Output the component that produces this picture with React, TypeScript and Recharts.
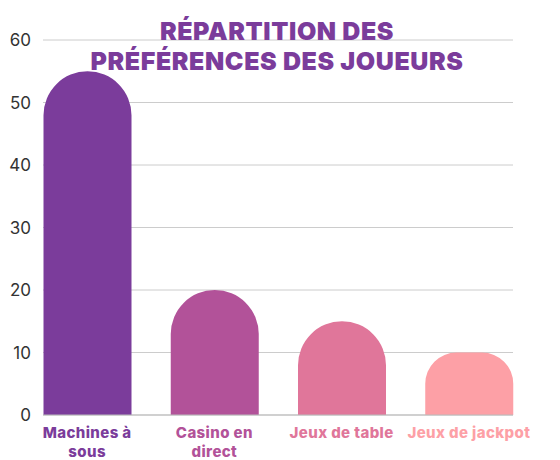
import React from "react";
import { BarChart, Bar, XAxis, YAxis, CartesianGrid, Cell } from "recharts";

const categories = ["Machines à\nsous", "Casino en\ndirect", "Jeux de table", "Jeux de jackpot"];
const values = [55, 20, 15, 10];
const colors = ["#7B3C9B", "#B25299", "#E0769A", "#FDA0A6"];
const yTicks = [0, 10, 20, 30, 40, 50, 60];
const titleLines = ["RÉPARTITION DES", "PRÉFÉRENCES DES JOUEURS"];

const data = categories.map((c, i) => ({ name: c, value: values[i] }));

const XTick = (props: any) => {
  const { x, y, payload, index } = props;
  const lines = String(payload.value).split("\n");
  return (
    <text
      x={x}
      y={y}
      textAnchor="middle"
      fill={colors[index]}
      fontFamily="Inter, 'Open Sans', sans-serif"
      fontWeight={800}
      fontSize={15}
      letterSpacing={0.4}
    >
      {lines.map((l, i) => (
        <tspan key={i} x={x} dy={i === 0 ? 19 : 19}>
          {l}
        </tspan>
      ))}
    </text>
  );
};

export default function App() {
  return (
    <div style={{ position: "absolute", left: 0, top: 0, width: 560, height: 460, background: "#fff" }}>
      <BarChart
        width={560}
        height={460}
        data={data}
        margin={{ top: 40, right: 47, bottom: 0, left: 0 }}
        barCategoryGap={19.5}
      >
        <CartesianGrid vertical={false} stroke="#cccccc" />
        <YAxis
          width={43}
          domain={[0, 60]}
          ticks={yTicks}
          axisLine={false}
          tickLine={false}
          tickSize={0}
          tickMargin={12}
          tick={{ fill: "#333", fontSize: 17, fontFamily: "Inter, sans-serif" }}
        />
        <XAxis
          dataKey="name"
          height={45}
          padding={{ left: -19.5, right: -19.5 }}
          interval={0}
          tickLine={false}
          tickSize={0}
          tickMargin={4}
          stroke="#bbbbbb"
          tick={<XTick />}
        />
        <Bar dataKey="value" isAnimationActive={false} radius={[44, 44, 0, 0]} barSize={88}>
          {data.map((_, i) => (
            <Cell key={i} fill={colors[i]} />
          ))}
        </Bar>
      </BarChart>
      <div
        style={{
          position: "absolute",
          left: 0,
          top: 16,
          width: 554,
          textAlign: "center",
          color: "#7B3C9B",
          fontFamily: "Inter, sans-serif",
          fontWeight: 900,
          fontSize: 25,
          lineHeight: "30px",
          letterSpacing: 0.6,
        }}
      >
        {titleLines.map((t, i) => (
          <div key={i}>{t}</div>
        ))}
      </div>
    </div>
  );
}
